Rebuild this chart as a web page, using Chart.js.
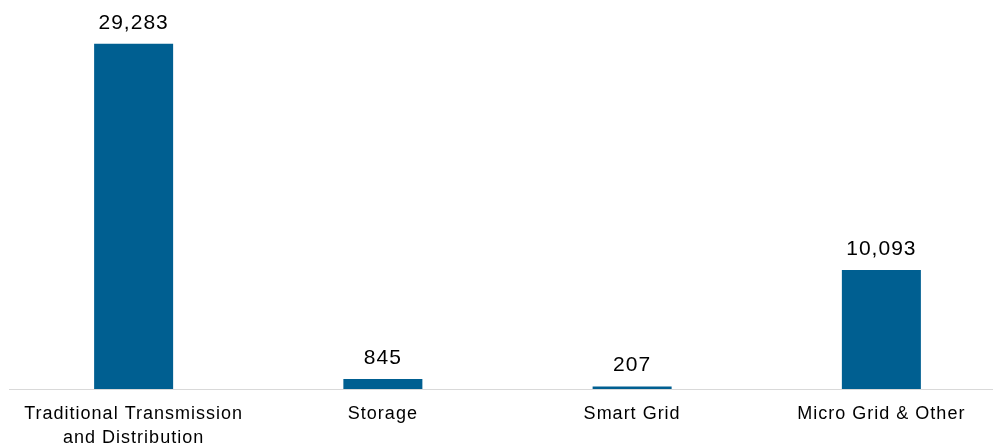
<!DOCTYPE html>
<html>
<head>
<meta charset="utf-8">
<script src="https://cdn.jsdelivr.net/npm/chart.js@4/dist/chart.umd.min.js"></script>
<style>
  html, body { margin: 0; background: #fff; overflow: hidden; }
  #wrap { width: 1006px; height: 448px; }
</style>
</head>
<body>
<div id="wrap"><canvas id="myChart"></canvas></div>
<script>
const categories = [
  ["Traditional Transmission", "and Distribution"],
  "Storage",
  "Smart Grid",
  "Micro Grid & Other"
];
const values = [29283, 845, 207, 10093];

// the original text is a little spread out
const spacing = {
  id: "spacing",
  beforeDraw(chart) {
    chart.ctx.letterSpacing = "1px";
  }
};

// draws the numbers above each bar
const valueLabels = {
  id: "valueLabels",
  afterDatasetsDraw(chart) {
    const ctx = chart.ctx;
    const meta = chart.getDatasetMeta(0);
    ctx.save();
    ctx.letterSpacing = "1px";
    ctx.font = "21px 'Liberation Sans', Arial, sans-serif";
    ctx.fillStyle = "#000";
    ctx.textAlign = "center";
    ctx.textBaseline = "middle";
    meta.data.forEach((bar, i) => {
      ctx.fillText(values[i].toLocaleString("en-US"), bar.x, bar.y - 21);
    });
    ctx.restore();
  }
};

const ctx = document.getElementById("myChart").getContext("2d");
const myChart = new Chart(ctx, {
  type: "bar",
  data: {
    labels: categories,
    datasets: [
      {
        data: values,
        backgroundColor: "#005F91",
        categoryPercentage: 1,
        barPercentage: 0.317,
      },
    ],
  },
  options: {
    responsive: true,
    maintainAspectRatio: false,
    animation: false,
    layout: { padding: { left: 9, right: 0, top: 0, bottom: 0 } },
    plugins: {
      legend: { display: false },
      tooltip: { enabled: false },
    },
    scales: {
      x: {
        grid: { display: false },
        border: { display: true, color: "#d9d9d9", width: 1 },
        ticks: {
          color: "#000",
          padding: 6,
          maxRotation: 0,
          autoSkip: false,
          font: { family: "'Liberation Sans', Arial, sans-serif", size: 18, lineHeight: 1.28 },
        },
        afterFit(scale) { scale.height = 59; },
      },
      y: {
        display: false,
        min: 0,
        max: 33000,
      },
    },
  },
  plugins: [spacing, valueLabels],
});
</script>
</body>
</html>
